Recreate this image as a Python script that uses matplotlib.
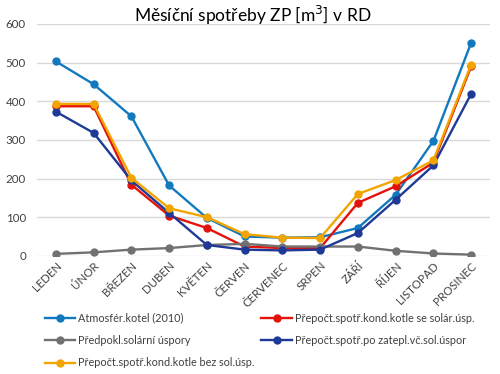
import matplotlib
matplotlib.use("Agg")
import matplotlib.pyplot as plt

plt.rcParams['font.family'] = ['Lato', 'DejaVu Sans']

mesice = ['LEDEN', 'ÚNOR', 'BŘEZEN', 'DUBEN', 'KVĚTEN', 'ČERVEN',
          'ČERVENEC', 'SRPEN', 'ZÁŘÍ', 'ŘÍJEN', 'LISTOPAD', 'PROSINEC']

atmosfer = [503, 444, 361, 182, 98, 50, 47, 48, 72, 158, 297, 551]
solarni_uspory = [5, 9, 16, 20, 28, 31, 24, 24, 24, 13, 6, 3]
kond_bez_sol = [393, 393, 202, 123, 100, 56, 47, 46, 160, 196, 247, 495]
kond_se_sol = [387, 387, 184, 104, 72, 24, 20, 20, 137, 180, 241, 490]
po_zatepleni = [373, 318, 195, 111, 28, 16, 14, 16, 59, 145, 234, 419]

nazvy = ['Atmosfér.kotel (2010)', 'Předpokl.solární úspory',
         'Přepočt.spotř.kond.kotle bez sol.úsp.',
         'Přepočt.spotř.kond.kotle se solár.úsp.',
         'Přepočt.spotř.po zatepl.vč.sol.úspor']
barvy = ['#1279BE', '#717171', '#F2A500', '#E3120B', '#1E3A96']
serie = [atmosfer, solarni_uspory, kond_bez_sol, kond_se_sol, po_zatepleni]
poradi = [0, 3, 1, 4, 2]  # poradi kresleni

fig = plt.figure(figsize=(5, 3.74), dpi=100)
ax = fig.add_axes([0.074, 0.316, 0.906, 0.62])

x = list(range(len(mesice)))
cary = {}
for i in poradi:
    cary[i], = ax.plot(x, serie[i], color=barvy[i], linewidth=1.7,
                       marker='o', markersize=5, label=nazvy[i])

ax.set_ylim(0, 600)
ax.set_yticks(range(0, 601, 100))
ax.set_xlim(-0.5, len(mesice) - 0.5)
ax.set_xticks(x)
ax.set_xticklabels(mesice, rotation=45, ha='right', rotation_mode='anchor',
                   fontsize=8.3, color='#404040')
ax.tick_params(axis='y', labelsize=8.3, labelcolor='#404040', length=0, pad=8)
ax.tick_params(axis='x', length=0, pad=3)
ax.grid(axis='y', color='#D9D9D9', linewidth=1)
ax.set_axisbelow(True)
for s in ax.spines.values():
    s.set_visible(False)

fig.text(0.505, 1 - 15 / 374, 'Měsíční spotřeby ZP [m$^3$] v RD',
         fontsize=12.5, ha='center', va='center')

fig.legend([cary[i] for i in range(5)], nazvy, loc='upper left',
           bbox_to_anchor=(0.07, 0.19), ncol=2, frameon=False,
           fontsize=7.8, handlelength=2.8, columnspacing=0.6,
           labelspacing=1.05, handletextpad=0.3, labelcolor='#404040')

fig.savefig('out.png', dpi=100)
